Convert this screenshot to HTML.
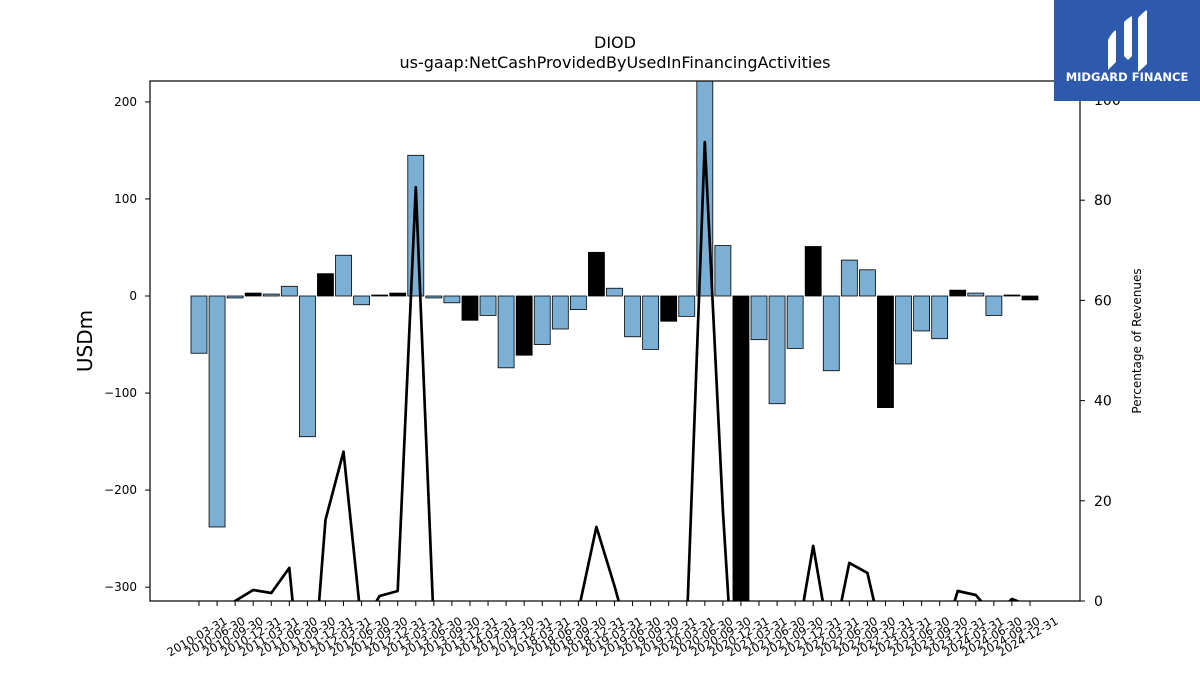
<!DOCTYPE html>
<html><head><meta charset="utf-8"><style>
html,body{margin:0;padding:0;background:#fff;width:1200px;height:675px;overflow:hidden;}
svg{display:block;font-family:"DejaVu Sans","Liberation Sans",sans-serif;}
</style></head><body>
<svg id="chart" width="1200" height="675" viewBox="0 0 1200 675" xmlns="http://www.w3.org/2000/svg">
<rect width="1200" height="675" fill="#fff"/>
<text x="615" y="48" font-size="16" text-anchor="middle">DIOD</text>
<text x="615" y="68" font-size="16" text-anchor="middle">us-gaap:NetCashProvidedByUsedInFinancingActivities</text>
<text transform="translate(92,341) rotate(-90)" font-size="20" text-anchor="middle">USDm</text>
<text transform="translate(1141,341) rotate(-90)" font-size="12" text-anchor="middle">Percentage of Revenues</text>
<defs><clipPath id="plotclip"><rect x="150" y="81" width="930" height="520"/></clipPath></defs>
<g id="bars" clip-path="url(#plotclip)"></g>
<g id="line" clip-path="url(#plotclip)"></g>
<g id="axes"></g>
<rect x="150" y="81" width="930" height="520" fill="none" stroke="#000" stroke-width="1.2"/>
<g>
<rect x="1054" y="0" width="146" height="101" fill="#2d5aac"/>
<path d="M1108 40 Q1112 32 1116 30 L1116 62 Q1112 66 1108 70 Z" fill="#fff"/>
<path d="M1124 22 Q1128 18 1132 16 L1132 56 L1128 60 L1124 56 Z" fill="#fff"/>
<path d="M1138 18 Q1143 12 1147 10 L1147 64 Q1143 68 1138 72 Z" fill="#fff"/>
<text x="1127" y="81" font-size="11.5" font-weight="bold" fill="#fff" text-anchor="middle">MIDGARD FINANCE</text>
</g>
</svg>
<script>
const categories=["2010-03-31","2010-06-30","2010-09-30","2010-12-31","2011-03-31","2011-06-30","2011-09-30","2011-12-31","2012-03-31","2012-06-30","2012-09-30","2012-12-31","2013-03-31","2013-06-30","2013-09-30","2013-12-31","2014-03-31","2017-09-30","2017-12-31","2018-03-31","2018-06-30","2018-09-30","2018-12-31","2019-03-31","2019-06-30","2019-09-30","2019-12-31","2020-03-31","2020-06-30","2020-09-30","2020-12-31","2021-03-31","2021-06-30","2021-09-30","2021-12-31","2022-03-31","2022-06-30","2022-09-30","2022-12-31","2023-03-31","2023-06-30","2023-09-30","2023-12-31","2024-03-31","2024-06-30","2024-09-30","2024-12-31"];
const cashValues=[-59,-238,-2,3,2,10,-145,23,42,-9,1,3,145,-2,-7,-25,-20,-74,-61,-50,-34,-14,45,8,-42,-55,-26,-21,250,52,-330,-45,-111,-54,51,-77,37,27,-115,-70,-36,-44,6,3,-20,1,-4];
const highlight=[0,0,0,1,0,0,0,1,0,0,1,1,0,0,0,1,0,0,1,0,0,0,1,0,0,0,1,0,0,0,1,0,0,0,1,0,0,0,1,0,0,0,1,0,0,1,1];
const pctValues=[-2,-2,0,2.2,1.6,6.6,-30,16.2,29.8,-5,1,2,82.6,-5,-10,-10,-10,-10,-10,-10,-10,-2,14.8,3,-10,-10,-10,-5,91.6,18,-40,-10,-10,-10,11,-10,7.6,5.6,-10,-10,-10,-10,2,1.2,-3,0.4,-1];
const leftTicks=[-300,-200,-100,0,100,200];
const rightTicks=[0,20,40,60,80,100];
const NS="http://www.w3.org/2000/svg";
const X0=199,DX=18.065;
function xPos(i){return X0+i*DX;}
function yL(v){return 296-v*0.9705;}
function yR(v){return 601-v*5.01;}
function mk(tag,attrs,parent){const e=document.createElementNS(NS,tag);for(const k in attrs)e.setAttribute(k,attrs[k]);parent.appendChild(e);return e;}
const gb=document.getElementById('bars'),gl=document.getElementById('line'),ga=document.getElementById('axes');
cashValues.forEach((v,i)=>{
 const y0=yL(0),y1=yL(v);
 const r=mk('rect',{x:xPos(i)-8,y:Math.min(y0,y1),width:16,height:Math.max(Math.abs(y1-y0),0.8),fill:highlight[i]?'#000':'#7bafd4',stroke:'#000','stroke-width':0.8},gb);
 
 
});
const pts=pctValues.map((v,i)=>xPos(i).toFixed(1)+','+yR(v).toFixed(1)).join(' ');
const pl=mk('polyline',{points:pts,fill:'none',stroke:'#000','stroke-width':2.7,'stroke-linejoin':'round'},gl);


leftTicks.forEach(t=>{
 const y=yL(t);
 mk('line',{x1:145,x2:150,y1:y,y2:y,stroke:'#000'},ga);
 const tx=mk('text',{x:137,y:y+4,'font-size':12,'text-anchor':'end'},ga);
 tx.textContent=t<0?'\u2212'+(-t):String(t);
 
 
});
rightTicks.forEach(t=>{
 const y=yR(t);
 mk('line',{x1:1080,x2:1085,y1:y,y2:y,stroke:'#000'},ga);
 const tx=mk('text',{x:1094,y:y+5,'font-size':14},ga);
 tx.textContent=String(t);
 
 
});
categories.forEach((c,i)=>{
 const x=xPos(i);
 mk('line',{x1:x,x2:x,y1:601,y2:606,stroke:'#000'},ga);
 const tx=mk('text',{transform:`translate(${x},${640}) rotate(-30)`,'font-size':11.5,'text-anchor':'middle'},ga);
 tx.textContent=c;
 
 
});
</script>
</body></html>
